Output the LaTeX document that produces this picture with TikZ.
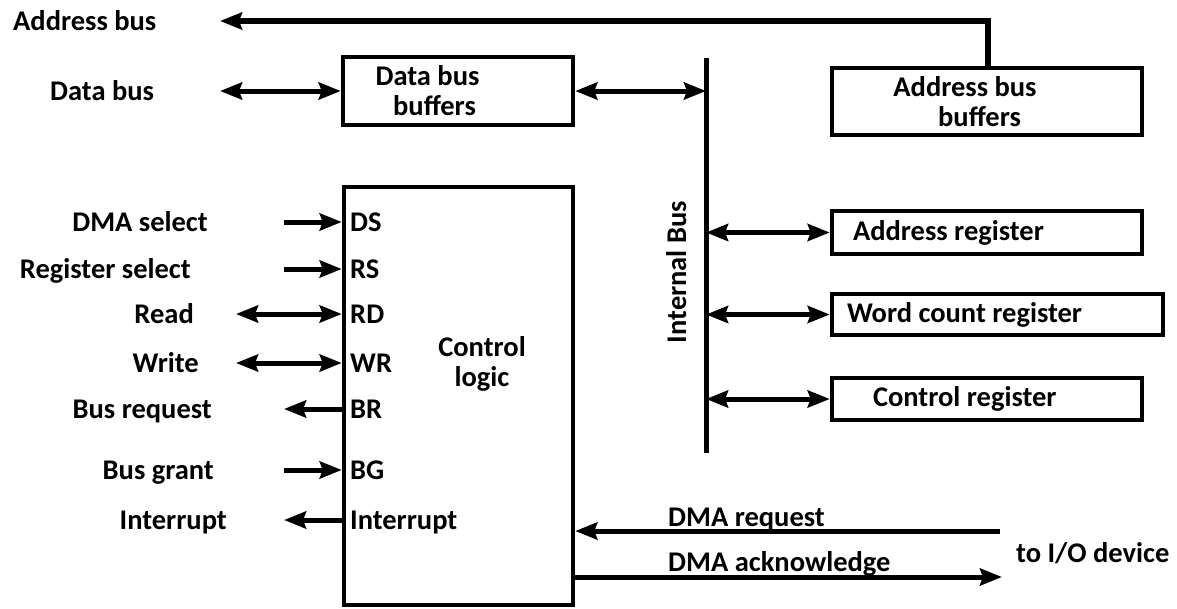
\documentclass[tikz,border=0pt]{standalone}
\usepackage{fontspec}
\setmainfont{Carlito}
\usetikzlibrary{arrows.meta}
\tikzset{
  txt/.style={font=\fontsize{28.5}{30}\selectfont\bfseries},
  lbl/.style={txt, inner sep=0pt, text height=18pt, text depth=0pt},
  box/.style={draw, line width=4.5pt, txt, inner sep=0pt},
  conn/.style={line width=5pt, -{Stealth[length=22pt,width=17pt,inset=3pt]}},
  dconn/.style={line width=5pt, {Stealth[length=22pt,width=17pt,inset=3pt]}-{Stealth[length=22pt,width=17pt,inset=3pt]}},
  plain/.style={line width=5pt}
}
\begin{document}
\begin{tikzpicture}[x=1pt,y=-1pt]
\useasboundingbox (0,0) rectangle (1177,608);
% top-left labels
\node[lbl, anchor=west] (addrlbl) at (13,21) {Address bus};
\node[lbl, anchor=west] (datalbl) at (50,91) {Data bus};
\coordinate (addrtip) at (220,21);
\coordinate (dbtip) at (220,91);
% boxes
\node[box, minimum width=230pt, minimum height=68pt, align=center] (databuf) at (458,91)
  {\hspace*{-61pt}Data bus\\ \hspace*{-47pt}buffers};
\node[box, minimum width=310pt, minimum height=67pt, align=center] (addrbuf) at (987,101.5)
  {\hspace*{-44pt}Address bus\\ \hspace*{-15pt}buffers};
\node[box, minimum height=43pt, inner xsep=21pt] (addrreg) at (987,232.5)
  {\makebox[268pt][l]{Address register}};
\node[box, minimum height=41pt, inner xsep=15pt] (wcreg) at (997.5,314.5)
  {\makebox[301pt][l]{Word count register}};
\node[box, minimum height=42pt, inner xsep=41pt] (ctlreg) at (987,399)
  {\makebox[228pt][l]{Control register}};
\node[box, minimum width=229pt, minimum height=418pt] (ctl) at (458.5,396) {};
\node[txt, align=center, inner sep=0pt] (ctltxt) at (482,364) {Control\\logic};
% internal bus
\coordinate (ibtop) at (706,58);
\coordinate (ibbot) at (706,453);
\draw[plain] (ibtop) -- (ibbot);
\node[lbl, rotate=90] (iblbl) at (677,272) {Internal Bus};
% top connectors
\draw[line width=5.5pt, -{Stealth[length=22pt,width=17pt,inset=3pt]}] (addrbuf.north -| 988,0) |- (addrtip);
\draw[dconn] (dbtip) -- (databuf.west);
\draw[dconn] (databuf.east) -- (databuf.east -| ibtop);
\draw[dconn] (addrreg.west -| ibtop) -- (addrreg.west);
\draw[dconn] (wcreg.west -| ibtop) -- (wcreg.west);
\draw[dconn] (ctlreg.west -| ibtop) -- (ctlreg.west);
% pins
\node[lbl, anchor=west] (pDS) at (350,222) {DS};
\node[lbl, anchor=west] (pRS) at (350,269) {RS};
\node[lbl, anchor=west] (pRD) at (350,314) {RD};
\node[lbl, anchor=west] (pWR) at (350,363) {WR};
\node[lbl, anchor=west] (pBR) at (350,409) {BR};
\node[lbl, anchor=west] (pBG) at (350,470) {BG};
\node[lbl, anchor=west] (pINT) at (350,520) {Interrupt};
% left labels
\node[lbl, anchor=east] (lDS) at (208,222) {DMA select};
\node[lbl, anchor=east] (lRS) at (191,269) {Register select};
\node[lbl, anchor=east] (lRD) at (194,314) {Read};
\node[lbl, anchor=east] (lWR) at (199,363) {Write};
\node[lbl, anchor=east] (lBR) at (212,409) {Bus request};
\node[lbl, anchor=east] (lBG) at (214,470) {Bus grant};
\node[lbl, anchor=east] (lINT) at (227,520) {Interrupt};
\coordinate (sDS) at (284,222);
\coordinate (sRS) at (284,269);
\coordinate (sRD) at (236,314);
\coordinate (sWR) at (236,363);
\coordinate (sBR) at (284,409);
\coordinate (sBG) at (284,470);
\coordinate (sINT) at (284,520);
\draw[conn] (sDS) -- (ctl.west |- sDS);
\draw[conn] (sRS) -- (ctl.west |- sRS);
\draw[dconn] (sRD) -- (ctl.west |- sRD);
\draw[dconn] (sWR) -- (ctl.west |- sWR);
\draw[conn] (ctl.west |- sBR) -- (sBR);
\draw[conn] (sBG) -- (ctl.west |- sBG);
\draw[conn] ([xshift=4pt]ctl.west |- sINT) -- (sINT);
% bottom
\coordinate (dreq) at (1000,531);
\coordinate (dack) at (1002,577);
\draw[conn] (dreq) -- (ctl.east |- dreq);
\draw[conn] (ctl.east |- dack) -- (dack);
\node[lbl, anchor=west] (treq) at (668,517) {DMA request};
\node[lbl, anchor=west] (tack) at (668,562) {DMA acknowledge};
\node[lbl, anchor=west] (tio) at (1016,553) {to I/O device};
\end{tikzpicture}
\end{document}
